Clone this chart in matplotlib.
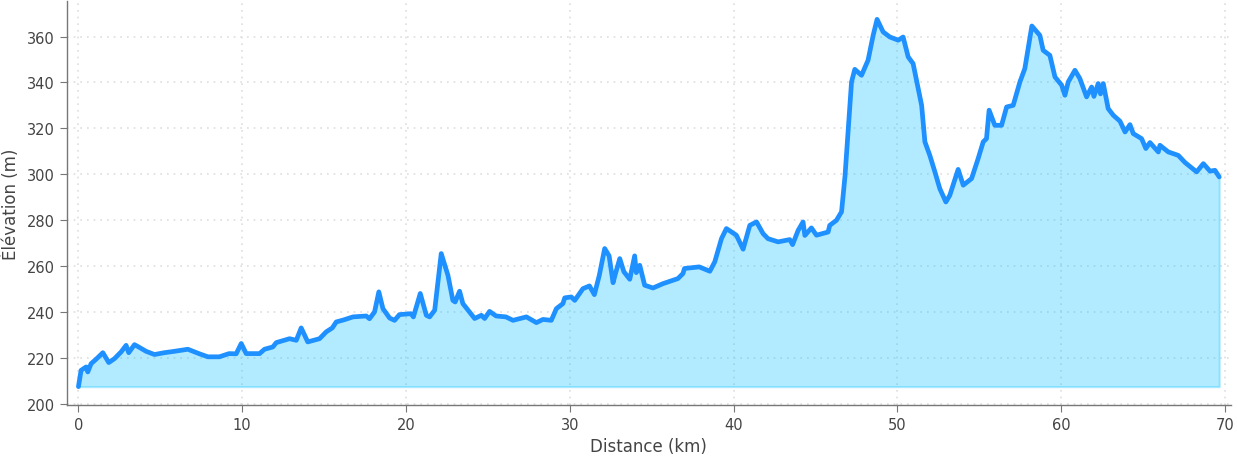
import matplotlib
matplotlib.use("Agg")
import matplotlib.pyplot as plt

distance_km = [
    0.0, 0.16, 0.47, 0.57, 0.77, 1.1, 1.49, 1.85, 2.2, 2.6, 2.91, 3.07, 3.42, 3.6,
    4.13, 4.64, 5.25, 5.86, 6.68, 7.39, 7.9, 8.6, 9.2, 9.63, 9.94, 10.24, 11.06,
    11.36, 11.87, 12.08, 12.89, 13.3, 13.6, 14.0, 14.72, 15.13, 15.5, 15.74, 16.2, 16.76, 17.57,
    17.77, 18.08, 18.34, 18.59, 19.0, 19.3, 19.6, 20.3, 20.45, 20.87, 21.24, 21.44,
    21.75, 22.15, 22.56, 22.86, 23.0, 23.27, 23.47, 24.19, 24.6, 24.8, 25.1, 25.5,
    26.1, 26.53, 27.35, 27.96, 28.36, 28.87, 29.18, 29.58, 29.69, 30.09, 30.3, 30.8,
    31.2, 31.5, 31.8, 32.13, 32.4, 32.64, 32.8, 33.05, 33.3, 33.66, 33.96, 34.06,
    34.27, 34.57, 35.08, 35.69, 36.6, 36.91, 37.0, 37.9, 38.55, 38.85, 39.26, 39.56,
    40.17, 40.58, 40.99, 41.4, 41.8, 42.1, 42.72, 43.43, 43.6, 43.94, 44.24, 44.35,
    44.75, 45.06, 45.77, 45.87, 46.28, 46.59, 46.8, 46.99, 47.2, 47.4, 47.81, 48.21,
    48.52, 48.76, 49.13, 49.54, 50.05, 50.35, 50.66, 50.96, 51.27, 51.48, 51.68,
    51.98, 52.29, 52.59, 52.96, 53.2, 53.71, 54.02, 54.53, 54.93, 55.24, 55.44, 55.6,
    55.95, 56.36, 56.67, 57.07, 57.48, 57.78, 58.21, 58.7, 58.9, 59.31, 59.62, 60.03,
    60.23, 60.43, 60.84, 61.14, 61.55, 61.86, 62.0, 62.26, 62.4, 62.57, 62.87, 63.18,
    63.59, 63.9, 64.2, 64.4, 64.91, 65.17, 65.42, 65.93, 66.03, 66.54, 67.15, 67.56,
    68.27, 68.68, 69.09, 69.39, 69.65,
]
elevation_m = [
    207.4, 214.5, 216.0, 213.8, 217.4, 219.5, 222.2, 217.9, 219.6, 222.5, 225.4, 222.2,
    225.7, 225.0, 222.8, 221.4, 222.2, 222.8, 223.7, 221.7, 220.4, 220.4, 221.8, 221.7,
    226.2, 221.8, 221.8, 223.7, 224.7, 226.6, 228.3, 227.6, 233.0, 226.9, 228.3, 231.3,
    233.0, 235.6, 236.5, 237.8, 238.2, 237.0, 240.0, 248.7, 241.4, 237.3, 236.3, 238.8, 239.2, 237.8,
    248.0, 238.5, 237.8, 240.7, 265.4, 255.9, 245.0, 244.3, 249.0, 243.6, 237.1, 238.5,
    237.1, 240.2, 238.2, 237.8, 236.3, 237.8, 235.3, 236.7, 236.3, 241.4, 243.6, 246.1,
    246.5, 245.0, 250.1, 251.3, 247.5, 255.9, 267.6, 264.4, 252.7, 257.0, 263.2, 257.5,
    254.2, 264.4, 257.1, 260.3, 251.6, 250.4, 252.3, 254.5, 256.7, 258.9, 259.6, 257.7,
    261.8, 271.9, 276.3, 273.4, 267.3, 277.7, 279.2, 274.1, 271.9, 270.5, 271.5, 269.3,
    275.5, 279.2, 273.3, 276.6, 273.4, 274.8, 277.7, 279.9, 283.6, 299.0, 318.4, 340.2,
    345.7, 343.1, 349.7, 360.5, 367.5, 362.0, 359.8, 358.4, 359.8, 351.1, 348.2, 337.3,
    330.0, 314.1, 308.2, 301.0, 293.7, 287.9, 290.8, 302.1, 295.2, 298.1, 306.8, 314.1,
    315.5, 327.9, 321.3, 321.3, 329.3, 330.0, 340.2, 346.0, 364.6, 360.5, 354.0, 351.8,
    342.4, 338.8, 334.4, 340.2, 345.3, 341.7, 333.7, 338.0, 333.9, 339.5, 335.0, 339.5,
    328.6, 325.7, 323.1, 318.4, 321.6, 317.7, 315.5, 311.2, 313.8, 309.7, 312.6, 309.7,
    308.2, 305.1, 301.0, 304.6, 301.3, 301.7, 298.8,
]

text_color = "#444444"
spine_color = "#777777"

fig = plt.figure(figsize=(12.38, 4.6), dpi=100)
ax = fig.add_axes([0.0541, 0.1174, 0.9400, 0.8783])

base = min(elevation_m)
ax.fill_between(distance_km, elevation_m, base, color="#00bfff", alpha=0.3, linewidth=1.5)
ax.plot(distance_km, elevation_m, color="#1e90ff", linewidth=3.4, solid_joinstyle="round",
        solid_capstyle="round")

ax.set_xlim(-0.7, 70.35)
ax.set_ylim(base - 8, max(elevation_m) + 8)
ax.set_xticks([0, 10, 20, 30, 40, 50, 60, 70])
ax.set_yticks([200, 220, 240, 260, 280, 300, 320, 340, 360])

ax.grid(True, linestyle=(0, (1, 3)), color="#dedede", linewidth=1.2)
ax.set_axisbelow(True)
for s in ["top", "right"]:
    ax.spines[s].set_visible(False)
for s in ["left", "bottom"]:
    ax.spines[s].set_color(spine_color)
    ax.spines[s].set_linewidth(1.0)
ax.tick_params(colors=spine_color, labelcolor=text_color, labelsize=10.5, length=5, direction="out")
ax.set_xlabel("Distance (km)", fontsize=12, color=text_color, labelpad=4)
ax.set_ylabel("Élévation (m)", fontsize=12, color=text_color, labelpad=5)

fig.savefig("out.png", dpi=100)
